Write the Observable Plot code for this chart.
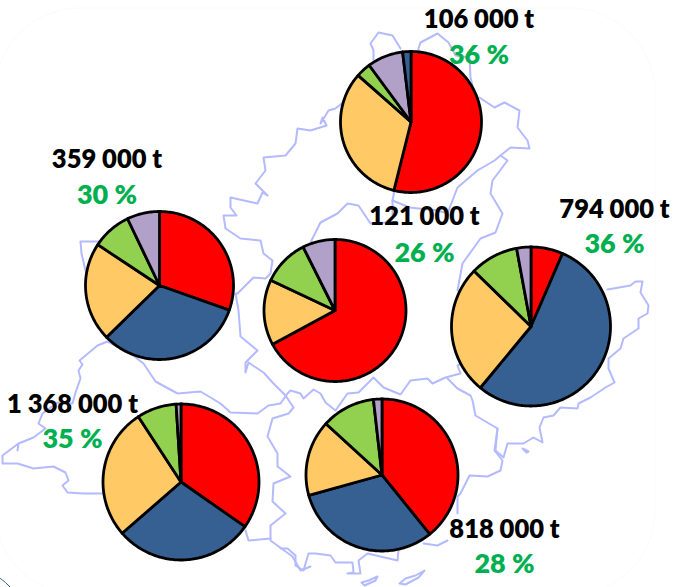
<!DOCTYPE html>
<html><head><meta charset="utf-8">
<script src="https://cdn.jsdelivr.net/npm/d3@7"></script>
<script src="https://cdn.jsdelivr.net/npm/@observablehq/plot@0.6"></script>
<style>html,body{margin:0;padding:0;background:#fff}svg{display:block}</style>
</head><body><div id="chart"></div>
<script>
const categories = ["a","b","c","d","e"];
const categoryColors = ["#FF0000","#376092","#FFC966","#92D050","#B1A0C7"];
const tonnages = ["106 000 t","359 000 t","121 000 t","794 000 t","1 368 000 t","818 000 t"];
const percents = ["36 %","30 %","26 %","36 %","35 %","28 %"];
const pieCategories = [
  ["a","c","d","e","b"],
  ["a","b","c","d","e"],
  ["a","c","d","e"],
  ["a","b","c","d","e"],
  ["a","b","c","d","e"],
  ["a","b","c","d","e"]
];
const pieValues = [
  [53.9,32.6,3.4,8.2,1.9],
  [30.4,32.3,21.6,8.6,7.1],
  [67.1,14.9,10.6,7.4],
  [6.5,54.5,26.3,9.8,2.9],
  [34.7,28.9,27.2,8.2,1.0],
  [39.2,31.5,16.1,11.4,1.8]
];
// layout of the pies and labels on the map
const pieX = [410.5,159,334.5,530.5,180.5,381.5];
const pieY = [121.5,285,310,326,481.5,474.5];
const pieR = [70.5,74,71,79.5,78,76];
const labelX = [478.5,106.5,424,614,72,504];
const tonY = [27,167,224,217,412,537];
const pctY = [63,203,261,252,447,572];

// map outline
const mapLines = [
 [[98,241],[80,241],[81,253],[85,270],[90,280]],
 [[345,100],[335,108],[328,110],[325,115],[320,123],[322,117],[326,125],[310,130],[297,128],[295,143],[285,155],[263,157],[265,170],[255,183],[267,195],[262,192],[257,203],[230,197],[230,207],[236,215],[223,215],[225,228],[240,238],[260,240],[263,253],[272,260],[270,273],[265,278],[253,277],[237,293],[235,293],[238,310],[240,336],[257,350],[245,362],[245,372],[248,362],[263,372],[273,383],[285,395],[293,407],[288,413],[272,418],[267,436],[277,453],[277,466],[290,476],[273,483],[272,501],[285,513],[270,525],[270,540],[292,556],[300,570],[310,566]],
 [[245,530],[248,540],[270,538]],
 [[130,353],[115,345],[107,341],[97,345],[79,360],[82,364],[78,370],[80,378],[75,392],[72,403],[57,402],[42,413],[38,423],[45,428],[33,437],[18,443],[17,450],[18,443],[2,455],[2,463],[17,463],[33,468],[53,466],[65,472],[68,480],[62,485],[67,492],[83,493],[102,493]],
 [[130,353],[143,363],[155,381],[177,393],[200,391],[220,403],[230,412],[257,413],[268,405],[280,403],[287,393],[290,390],[300,393],[303,398],[313,389],[320,393],[325,402],[335,410],[347,393],[358,392],[373,377],[383,387],[400,394],[410,380],[427,378],[432,383],[445,377],[460,373],[457,365],[463,362]],
 [[447,378],[457,388],[470,395],[472,400],[475,415],[497,428],[494,450],[502,460],[500,470],[487,476],[469,475],[460,493],[457,496],[457,513]],
 [[280,548],[287,548],[295,555],[295,565],[303,570],[308,553],[315,553],[330,555],[335,562],[352,562],[353,572],[347,573],[360,573],[358,560],[367,553],[397,560],[398,550]],
 [[423,543],[437,545],[447,540]],
 [[361,582],[368,580],[377,576],[375,580],[364,585],[361,582]],
 [[399,583],[405,578],[415,575],[424,570],[418,577],[405,584],[399,583]],
 [[607,289],[630,285],[635,281],[642,281],[640,292],[648,305],[647,313],[638,318],[638,328],[623,338],[620,348],[608,358],[608,368],[614,382],[605,387],[590,397],[578,403],[577,408],[560,407],[553,415],[543,417],[539,427],[542,442],[533,437],[523,443],[507,443],[503,457],[495,450],[497,428]],
 [[522,448],[528,451],[526,452],[522,448]],
 [[457,290],[462,263],[480,238],[495,232],[502,213],[490,193],[492,180],[507,160],[500,155],[510,147],[529,148],[527,140],[517,127],[519,110],[504,102],[494,107],[479,97]],
 [[373,60],[373,50],[370,43],[378,32],[392,35],[400,48]],
 [[418,52],[418,48],[420,42],[437,33],[448,42],[455,55],[469,57],[470,77],[472,85]],
 [[500,155],[494,160],[477,170],[457,187],[452,200],[447,213],[437,210],[409,207],[392,200],[394,190]],
 [[310,242],[320,222],[337,213],[347,203],[358,205],[370,223],[385,222],[392,216],[392,200]]
];
const cornerStroke = [[0,578],[5,582],[10,587]];

const mapPoints = mapLines.flatMap((line,i)=>line.map(p=>({id:i,x:p[0],y:p[1]})));
const piePoints = pieValues.flatMap((vals,i)=>{
  const arcs = d3.pie().sort(null)(vals);
  return arcs.flatMap((a,j)=>{
    const pts=[{x:pieX[i],y:pieY[i]}];
    const n=Math.max(2,Math.ceil((a.endAngle-a.startAngle)/0.02));
    for(let k=0;k<=n;k++){
      const t=a.startAngle+(a.endAngle-a.startAngle)*k/n;
      pts.push({x:pieX[i]+pieR[i]*Math.sin(t),y:pieY[i]-pieR[i]*Math.cos(t)});
    }
    pts.push({x:pieX[i],y:pieY[i]});
    return pts.map(p=>({...p,id:i+"-"+j,cat:pieCategories[i][j]}));
  });
});
const labels = tonnages.map((t,i)=>({t,p:percents[i],x:labelX[i],ty:tonY[i],py:pctY[i]}));
const font = "Lato, 'Noto Sans', sans-serif";

const chart = Plot.plot({
  width:674,height:587,margin:0,
  x:{domain:[0,674],range:[0,674],axis:null},
  y:{domain:[0,587],range:[0,587],axis:null},
  color:{domain:categories,range:categoryColors},
  style:{background:"#fff"},
  marks:[
    Plot.rect([{x1:-5,x2:655,y1:8,y2:595}],{x1:"x1",x2:"x2",y1:"y1",y2:"y2",rx:85,fill:"none",stroke:"#fbfbfb"}),
    Plot.line(mapPoints,{x:"x",y:"y",z:"id",stroke:"#b4baff",strokeWidth:2,imageFilter:"blur(0.6px)"}),
    Plot.line(cornerStroke,{x:d=>d[0],y:d=>d[1],stroke:"#376092",strokeWidth:1}),
    Plot.line(piePoints,{x:"x",y:"y",z:"id",fill:"cat",stroke:"#000",strokeWidth:2.8,strokeLinejoin:"round"}),
    Plot.text(labels,{x:"x",y:"ty",text:"t",lineAnchor:"bottom",textAnchor:"middle",fontFamily:font,fontWeight:800,fontSize:25.5,fill:"#000"}),
    Plot.text(labels,{x:"x",y:"py",text:"p",lineAnchor:"bottom",textAnchor:"middle",fontFamily:font,fontWeight:800,fontSize:27,fill:"#00B050"})
  ]
});
document.getElementById("chart").append(chart);
</script></body></html>
